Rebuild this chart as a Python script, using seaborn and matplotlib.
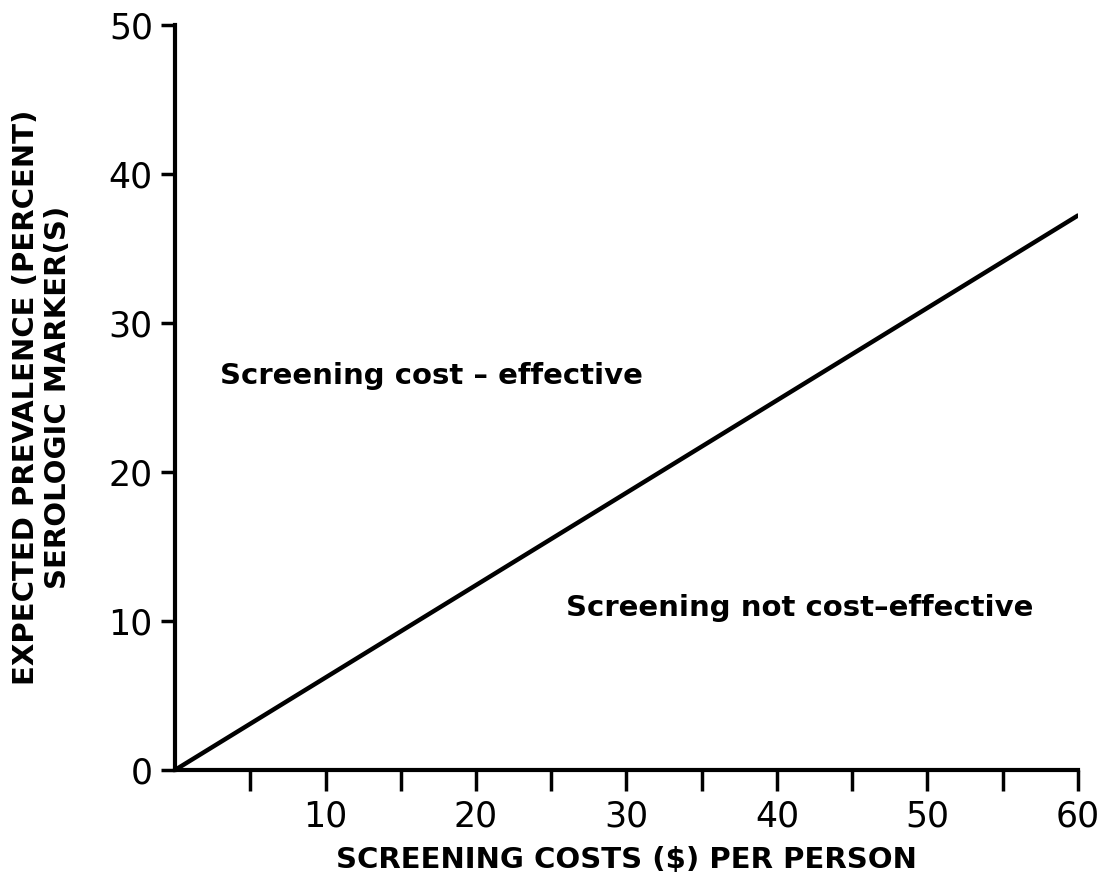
import matplotlib
matplotlib.use("Agg")
import matplotlib.pyplot as plt
import seaborn as sns
import pandas as pd

# data
cost = [0, 60]
prevalence = [0, 37.2]
x_major = [10, 20, 30, 40, 50, 60]
x_minor = [5, 15, 25, 35, 45, 55]
y_ticks = [0, 10, 20, 30, 40, 50]

sns.set_theme(style="white")
plt.rcParams['font.family'] = ['DejaVu Sans']

fig = plt.figure(figsize=(11.01, 8.84), dpi=100)
ax = fig.add_axes([0.159, 0.129, 0.82, 0.843])

df = pd.DataFrame({"cost": cost, "prev": prevalence})
sns.lineplot(data=df, x="cost", y="prev", ax=ax, color="black", linewidth=3.2,
             solid_capstyle="round")

ax.set_xlim(0, 60)
ax.set_ylim(0, 50)
for s in ["top", "right"]:
    ax.spines[s].set_visible(False)
for s in ["left", "bottom"]:
    ax.spines[s].set_color("black")
    ax.spines[s].set_linewidth(3)

ax.set_xticks(x_major)
ax.set_xticklabels([str(v) for v in x_major])
ax.set_xticks(x_minor, minor=True)
ax.set_yticks(y_ticks)
ax.set_yticklabels([str(v) for v in y_ticks])
ax.tick_params(axis="both", which="both", direction="out", color="black",
               width=2.5, labelsize=25, labelcolor="black",
               bottom=True, left=True)
ax.tick_params(axis="x", which="major", length=15, pad=6)
ax.tick_params(axis="x", which="minor", length=15)
ax.tick_params(axis="y", which="major", length=10, pad=6)

ax.set_xlabel("SCREENING COSTS ($) PER PERSON", fontsize=21, fontweight="bold",
              labelpad=9, color="black")
ax.set_ylabel("EXPECTED PREVALENCE (PERCENT)\nSEROLOGIC MARKER(S)", fontsize=21,
              fontweight="bold", labelpad=26, color="black", linespacing=1.2)

ax.text(3, 26.4, "Screening cost \u2013 effective", fontsize=21,
        fontweight="bold", color="black", va="center", ha="left")
ax.text(26, 10.9, "Screening not cost\u2013effective", fontsize=21,
        fontweight="bold", color="black", va="center", ha="left")

fig.savefig("out.png", dpi=100, facecolor="white")
